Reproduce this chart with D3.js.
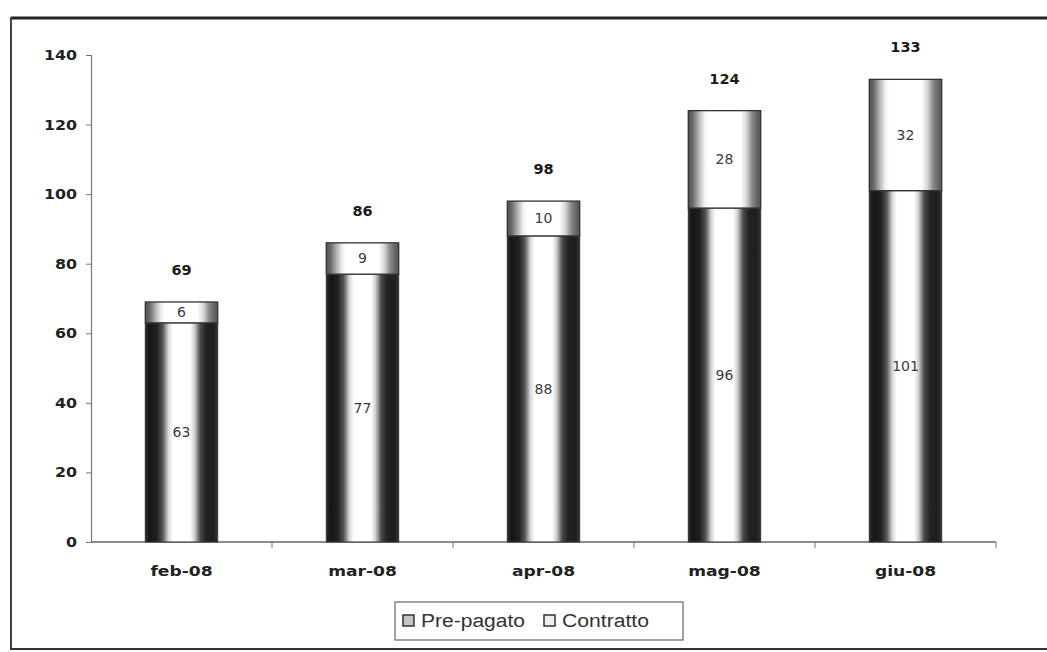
<!DOCTYPE html>
<html>
<head>
<meta charset="utf-8">
<script src="https://cdn.jsdelivr.net/npm/d3@7"></script>
<style>
  html, body { margin: 0; padding: 0; background: #fff; }
  svg { display: block; }
</style>
</head>
<body>
<svg id="chart" width="1047" height="652"></svg>
<script>
// Monthly subscribers: pre-paid (bottom) and contract (top)
const months = ["feb-08", "mar-08", "apr-08", "mag-08", "giu-08"];
const prePagato = [63, 77, 88, 96, 101];
const contratto = [6, 9, 10, 28, 32];
const totals = [69, 86, 98, 124, 133];
const yTicks = [0, 20, 40, 60, 80, 100, 120, 140];
const seriesNames = ["Pre-pagato", "Contratto"];

const svg = d3.select("#chart");
const W = 1047, H = 652;
const boldFont = "DejaVu Sans, Verdana, sans-serif";

// Outer frame
svg.append("line").attr("x1", 11).attr("x2", W).attr("y1", 18).attr("y2", 18)
  .attr("stroke", "#222").attr("stroke-width", 3);
svg.append("line").attr("x1", 11).attr("x2", 11).attr("y1", 17).attr("y2", 649)
  .attr("stroke", "#444").attr("stroke-width", 2);
svg.append("line").attr("x1", 10).attr("x2", W).attr("y1", 649).attr("y2", 649)
  .attr("stroke", "#333").attr("stroke-width", 2);

// Gradients for the shaded column look
const defs = svg.append("defs");
function grad(id, stops) {
  const g = defs.append("linearGradient").attr("id", id)
    .attr("x1", "0%").attr("x2", "100%").attr("y1", "0%").attr("y2", "0%");
  stops.forEach(([o, c]) => g.append("stop").attr("offset", o).attr("stop-color", c));
}
grad("gPre", [["0%", "#2c2c2c"], ["6%", "#151515"], ["16%", "#202020"], ["24%", "#555555"],
              ["32%", "#d8d8d8"], ["38%", "#ffffff"], ["62%", "#ffffff"], ["68%", "#cfcfcf"],
              ["76%", "#4a4a4a"], ["84%", "#222222"], ["94%", "#1e1e1e"], ["100%", "#333333"]]);
grad("gCon", [["0%", "#505050"], ["6%", "#6a6a6a"], ["14%", "#b0b0b0"], ["22%", "#f0f0f0"],
              ["28%", "#ffffff"], ["72%", "#ffffff"], ["80%", "#d8d8d8"], ["88%", "#8a8a8a"],
              ["95%", "#666666"], ["100%", "#555555"]]);

const x = d3.scaleBand().domain(months).range([91, 996]).paddingInner(0.6).paddingOuter(0.3);
const y = d3.scaleLinear().domain([0, 140]).range([542, 55]);

// Y axis (labels slightly widened)
const yAxis = svg.append("g").attr("transform", "translate(91,0)")
  .call(d3.axisLeft(y).tickValues(yTicks).tickSize(5).tickPadding(0));
yAxis.select(".domain").attr("stroke", "#777").attr("stroke-width", 1.2);
yAxis.selectAll(".tick line").attr("stroke", "#777");
yAxis.selectAll("text")
  .attr("x", null)
  .attr("transform", "translate(-14,0) scale(1.13,1)")
  .attr("font-family", boldFont)
  .attr("font-size", 14).attr("font-weight", "bold").attr("fill", "#222");

// X axis with boundary ticks between categories
const step = x.step();
const bounds = d3.range(months.length + 1).map(i => x.range()[0] + i * step);
svg.append("line").attr("x1", 91).attr("x2", 996).attr("y1", 542).attr("y2", 542)
  .attr("stroke", "#666").attr("stroke-width", 1.5);
svg.selectAll(".xtick").data(bounds.slice(1)).enter().append("line")
  .attr("x1", d => d).attr("x2", d => d).attr("y1", 542).attr("y2", 548)
  .attr("stroke", "#777");
svg.selectAll(".xlab").data(months).enter().append("text")
  .attr("transform", d => `translate(${x(d) + x.bandwidth() / 2},576) scale(1.18,1)`)
  .attr("text-anchor", "middle")
  .attr("font-family", boldFont)
  .attr("font-size", 14.5).attr("font-weight", "bold").attr("fill", "#222")
  .text(d => d);

// Stacked bars
const rows = months.map((m, i) => ({ m, pre: prePagato[i], con: contratto[i], tot: totals[i] }));
const bars = svg.append("g");
bars.selectAll(".pre").data(rows).enter().append("rect")
  .attr("x", d => x(d.m)).attr("width", x.bandwidth())
  .attr("y", d => y(d.pre)).attr("height", d => y(0) - y(d.pre))
  .attr("fill", "url(#gPre)")
  .attr("stroke", "#333").attr("stroke-width", 1);
bars.selectAll(".con").data(rows).enter().append("rect")
  .attr("x", d => x(d.m)).attr("width", x.bandwidth())
  .attr("y", d => y(d.pre + d.con)).attr("height", d => y(d.pre) - y(d.pre + d.con))
  .attr("fill", "url(#gCon)")
  .attr("stroke", "#333").attr("stroke-width", 1.3);

// Segment value labels
const segFont = "DejaVu Sans, Tahoma, sans-serif";
bars.selectAll(".lpre").data(rows).enter().append("text")
  .attr("x", d => x(d.m) + x.bandwidth() / 2)
  .attr("y", d => (y(0) + y(d.pre)) / 2 + 5)
  .attr("text-anchor", "middle").attr("font-family", segFont).attr("font-size", 14)
  .attr("fill", "#3a3a3a").text(d => d.pre);
bars.selectAll(".lcon").data(rows).enter().append("text")
  .attr("x", d => x(d.m) + x.bandwidth() / 2)
  .attr("y", d => (y(d.pre) + y(d.pre + d.con)) / 2 + 5)
  .attr("text-anchor", "middle").attr("font-family", segFont).attr("font-size", 14)
  .attr("fill", "#3a3a3a").text(d => d.con);

// Totals above the bars
bars.selectAll(".ltot").data(rows).enter().append("text")
  .attr("x", d => x(d.m) + x.bandwidth() / 2)
  .attr("y", d => y(d.tot) - 27)
  .attr("text-anchor", "middle").attr("font-family", boldFont)
  .attr("font-size", 14.5).attr("font-weight", "bold").attr("fill", "#1a1a1a")
  .text(d => d.tot);

// Legend
const lg = svg.append("g");
lg.append("rect").attr("x", 395).attr("y", 602).attr("width", 288).attr("height", 38)
  .attr("fill", "#fff").attr("stroke", "#666").attr("stroke-width", 1.2);
const legX = [403, 544];
const legTextW = [104, 87];
seriesNames.forEach((name, i) => {
  lg.append("rect").attr("x", legX[i]).attr("y", 615).attr("width", 11).attr("height", 11)
    .attr("fill", i === 0 ? "#c4c4c4" : "#eeeeee").attr("stroke", "#333").attr("stroke-width", 1.5);
  lg.append("text").attr("x", legX[i] + 18).attr("y", 627)
    .attr("font-family", "Liberation Sans, Arial, sans-serif").attr("font-size", 18)
    .attr("textLength", legTextW[i]).attr("lengthAdjust", "spacingAndGlyphs")
    .attr("fill", "#333").text(name);
});
</script>
</body>
</html>
